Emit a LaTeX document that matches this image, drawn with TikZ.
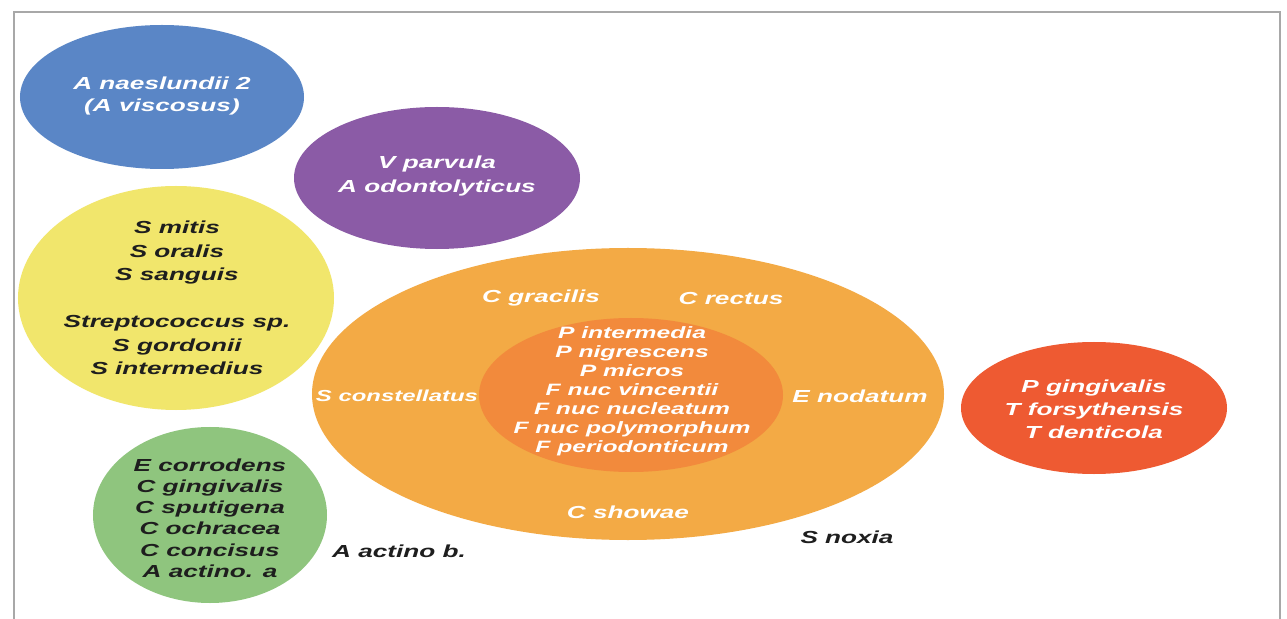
\documentclass[tikz,border=0pt]{standalone}
\usepackage{fontspec}
\newfontfamily\lab[FakeStretch=1.5]{Liberation Sans}
\usetikzlibrary{shapes.geometric}
\definecolor{cblue}{HTML}{5A86C6}
\definecolor{cpurple}{HTML}{8B5BA6}
\definecolor{cyellow}{HTML}{F1E66C}
\definecolor{cgreen}{HTML}{8FC57E}
\definecolor{corange}{HTML}{F3AA45}
\definecolor{cinner}{HTML}{F28A3C}
\definecolor{cred}{HTML}{EE5A32}
\definecolor{cdark}{HTML}{1E1E1E}
\definecolor{cframe}{HTML}{A8A8A8}
\newcommand\labfont[2]{\lab\bfseries\itshape\fontsize{#1}{#2}\selectfont}
\tikzset{
  blob/.style={ellipse, inner sep=0pt, draw=none},
  txt/.style={align=center, inner sep=0pt, font=\labfont{17.5}{#1}},
  txt/.default=22,
  itxt/.style={align=center, inner sep=0pt, font=\labfont{16.5}{19}},
  stxt/.style={align=center, inner sep=0pt, font=\labfont{16}{19}},
}
\begin{document}
\begin{tikzpicture}[x=1bp,y=-1bp]
\useasboundingbox (0,0) rectangle (1287,619);
\fill[white] (0,0) rectangle (1287,619);
% frame
\coordinate (f1) at (14,619);
\coordinate (f2) at (14,12);
\coordinate (f3) at (1280,12);
\coordinate (f4) at (1280,619);
\draw[cframe, line width=1.6bp] (f1) -- (f2) -- (f3) -- (f4);
% ellipses
\node[blob, fill=cblue,   minimum width=284bp, minimum height=144bp] (blue)   at (162,97) {};
\node[blob, fill=cpurple, minimum width=286bp, minimum height=142bp] (purple) at (437,178) {};
\node[blob, fill=cyellow, minimum width=316bp, minimum height=224bp] (yellow) at (176,298) {};
\node[blob, fill=cgreen,  minimum width=234bp, minimum height=176bp] (green)  at (210,515) {};
\node[blob, fill=corange, minimum width=632bp, minimum height=292bp] (orange) at (628,394) {};
\node[blob, fill=cinner,  minimum width=304bp, minimum height=154bp] (inner)  at (631,395) {};
\node[blob, fill=cred,    minimum width=266bp, minimum height=132bp] (red)    at (1094,408) {};
% texts
\node[txt=22, text=white] (tblue) at (162,96) {A naeslundii 2\\(A viscosus)};
\node[txt=24, text=white] (tpurple) at (437,176) {V parvula\\A odontolyticus};
\node[txt=23.5, text=cdark] (tyellow) at (177,298) {S mitis\\S oralis\\S sanguis\\[23.5bp]Streptococcus sp.\\S gordonii\\S intermedius};
\node[txt=21.3, text=cdark] (tgreen) at (210,518) {E corrodens\\C gingivalis\\C sputigena\\C ochracea\\C concisus\\A actino. a};
\node[itxt, text=white] (tinner) at (632,391) {P intermedia\\P nigrescens\\P micros\\F nuc vincentii\\F nuc nucleatum\\F nuc polymorphum\\F periodonticum};
\node[txt=23, text=white] (tred) at (1094,409) {P gingivalis\\T forsythensis\\T denticola};
% orange ring labels
\node[txt, text=white] (cgrac) at (541,298) {C gracilis};
\node[txt, text=white] (crect) at (731,298) {C rectus};
\node[stxt, text=white] (scons) at (397,396) {S constellatus};
\node[txt, text=white] (enod) at (860,396) {E nodatum};
\node[txt, text=white] (cshow) at (628,512) {C showae};
% outside labels
\node[txt, text=cdark] (aab) at (399,551) {A actino b.};
\node[txt, text=cdark] (snox) at (847,537) {S noxia};
\end{tikzpicture}
\end{document}
